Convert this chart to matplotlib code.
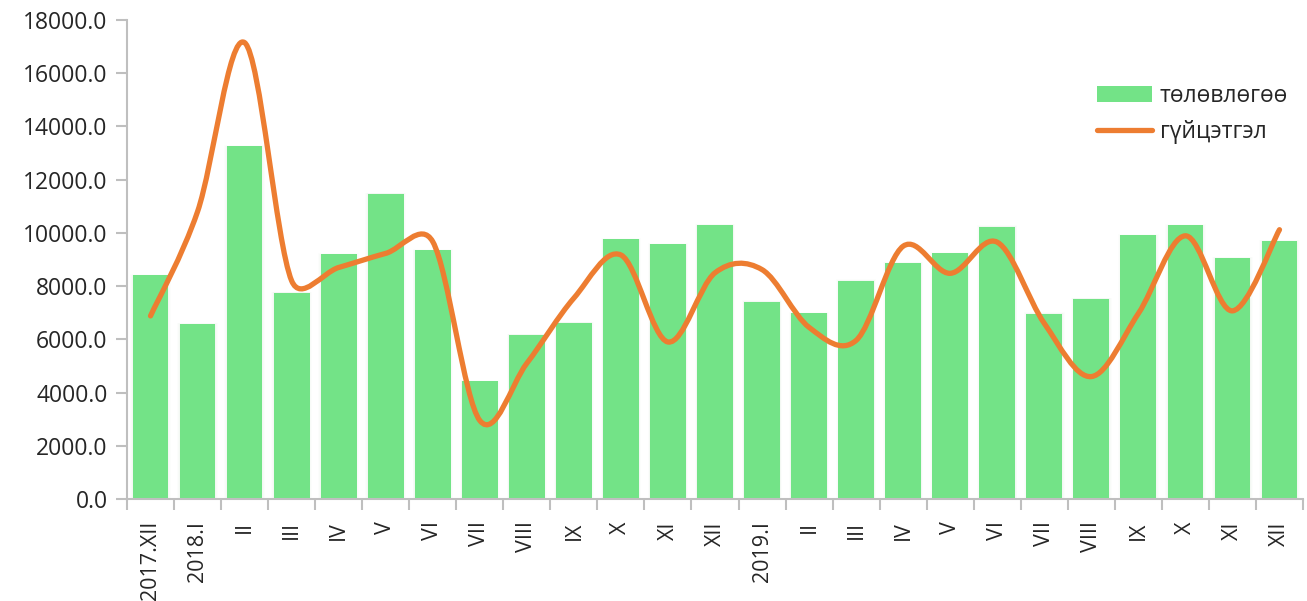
import numpy as np
import matplotlib
matplotlib.use("Agg")
import matplotlib.pyplot as plt
from matplotlib.path import Path
from matplotlib.patches import PathPatch
from matplotlib.lines import Line2D
from matplotlib.patches import Patch

plt.rcParams['font.family'] = ['Open Sans', 'DejaVu Sans']

categories = ["2017.XII", "2018.I", "II", "III", "IV", "V", "VI", "VII", "VIII", "IX",
              "X", "XI", "XII", "2019.I", "II", "III", "IV", "V", "VI", "VII", "VIII",
              "IX", "X", "XI", "XII"]
plan = [8400, 6580, 13250, 7750, 9200, 11470, 9350, 4420, 6170, 6630,
        9760, 9570, 10300, 7420, 6980, 8210, 8870, 9230, 10240, 6970, 7530,
        9910, 10280, 9060, 9690]
actual = [6880, 10800, 17150, 8200, 8700, 9230, 9670, 2950, 5100, 7550,
          9170, 5900, 8500, 8620, 6450, 5960, 9500, 8480, 9650, 6600, 4600,
          6970, 9890, 7070, 10120]
labels = ["төлөвлөгөө", "гүйцэтгэл"]

bar_color = "#73E387"
line_color = "#ED7D31"
axis_color = "#BFBFBF"
text_color = "#262626"

fig = plt.figure(figsize=(13.07, 6.01), dpi=100)
ax = fig.add_axes([127/1307, 1 - 499/601, (1303-127)/1307, (499-20)/601])

x = np.arange(len(categories))
ax.set_xlim(-0.5, len(categories) - 0.5)
ax.set_ylim(0, 18000)

# soft glow behind bars
for w, a in [(0.86, 0.05), (0.82, 0.08), (0.79, 0.12)]:
    ax.bar(x, np.array(plan) + 40 * (w - 0.76) / 0.1, width=w, color="#cfe6cf", alpha=a, zorder=1)
ax.bar(x, plan, width=0.76, color=bar_color, zorder=2, label=labels[0])

# Smoothed line: spreadsheet-style Bezier (tension 1/6, control offset capped at half segment)
fig.canvas.draw()
trans = ax.transData
P = trans.transform(np.column_stack([x, actual]).astype(float))
n = len(P)
def dist(a, b):
    return float(np.hypot(*(b - a)))
verts = [tuple(P[0])]
codes = [Path.MOVETO]
for i in range(n - 1):
    p1, p2 = P[i], P[i + 1]
    p0 = P[i - 1] if i > 0 else p1
    p3 = P[i + 2] if i + 2 < n else p2
    d12 = dist(p1, p2)
    d02 = dist(p0, p2)
    d13 = dist(p1, p3)
    f1 = 1/6 if d02 / 6 < d12 / 2 else d12 / d02 / 2
    f2 = 1/6 if d13 / 6 < d12 / 2 else d12 / d13 / 2
    c1 = p1 + (p2 - p0) * f1
    c2 = p2 - (p3 - p1) * f2
    verts += [tuple(c1), tuple(c2), tuple(p2)]
    codes += [Path.CURVE4] * 3
verts_data = trans.inverted().transform(np.array(verts))
path = Path(verts_data, codes)
ax.add_patch(PathPatch(path, facecolor='none', edgecolor=line_color, lw=3.8,
                       capstyle='round', joinstyle='round', zorder=3))

ax.set_yticks(np.arange(0, 18001, 2000))
ax.set_yticklabels([f"{v:.1f}" for v in np.arange(0, 18001, 2000)])
ax.set_xticks(x)
ax.set_xticklabels(categories, rotation=90)
ax.set_xticks(np.arange(-0.5, len(categories), 1), minor=True)
ax.tick_params(axis='x', which='major', length=0, pad=16, labelsize=15.5, colors=text_color)
ax.tick_params(axis='x', which='minor', length=8, width=1.5, color=axis_color)
ax.tick_params(axis='y', length=8, width=1.5, color=axis_color, labelsize=16.5,
               labelcolor=text_color, pad=6)

for s in ['top', 'right']:
    ax.spines[s].set_visible(False)
for s in ['left', 'bottom']:
    ax.spines[s].set_color(axis_color)
    ax.spines[s].set_linewidth(1.5)

handles = [Patch(facecolor=bar_color, edgecolor='none'),
           Line2D([0], [0], color=line_color, lw=3.8, solid_capstyle='round')]
leg = fig.legend(handles, labels, loc='upper left',
                 bbox_to_anchor=(1076/1307, 1 - 63/601), frameon=False,
                 fontsize=16.5, handlelength=2.4, handleheight=0.7,
                 handletextpad=0.35, labelspacing=0.55)
for tx in leg.get_texts():
    tx.set_color(text_color)

fig.savefig("out.png", dpi=100, facecolor='white')
